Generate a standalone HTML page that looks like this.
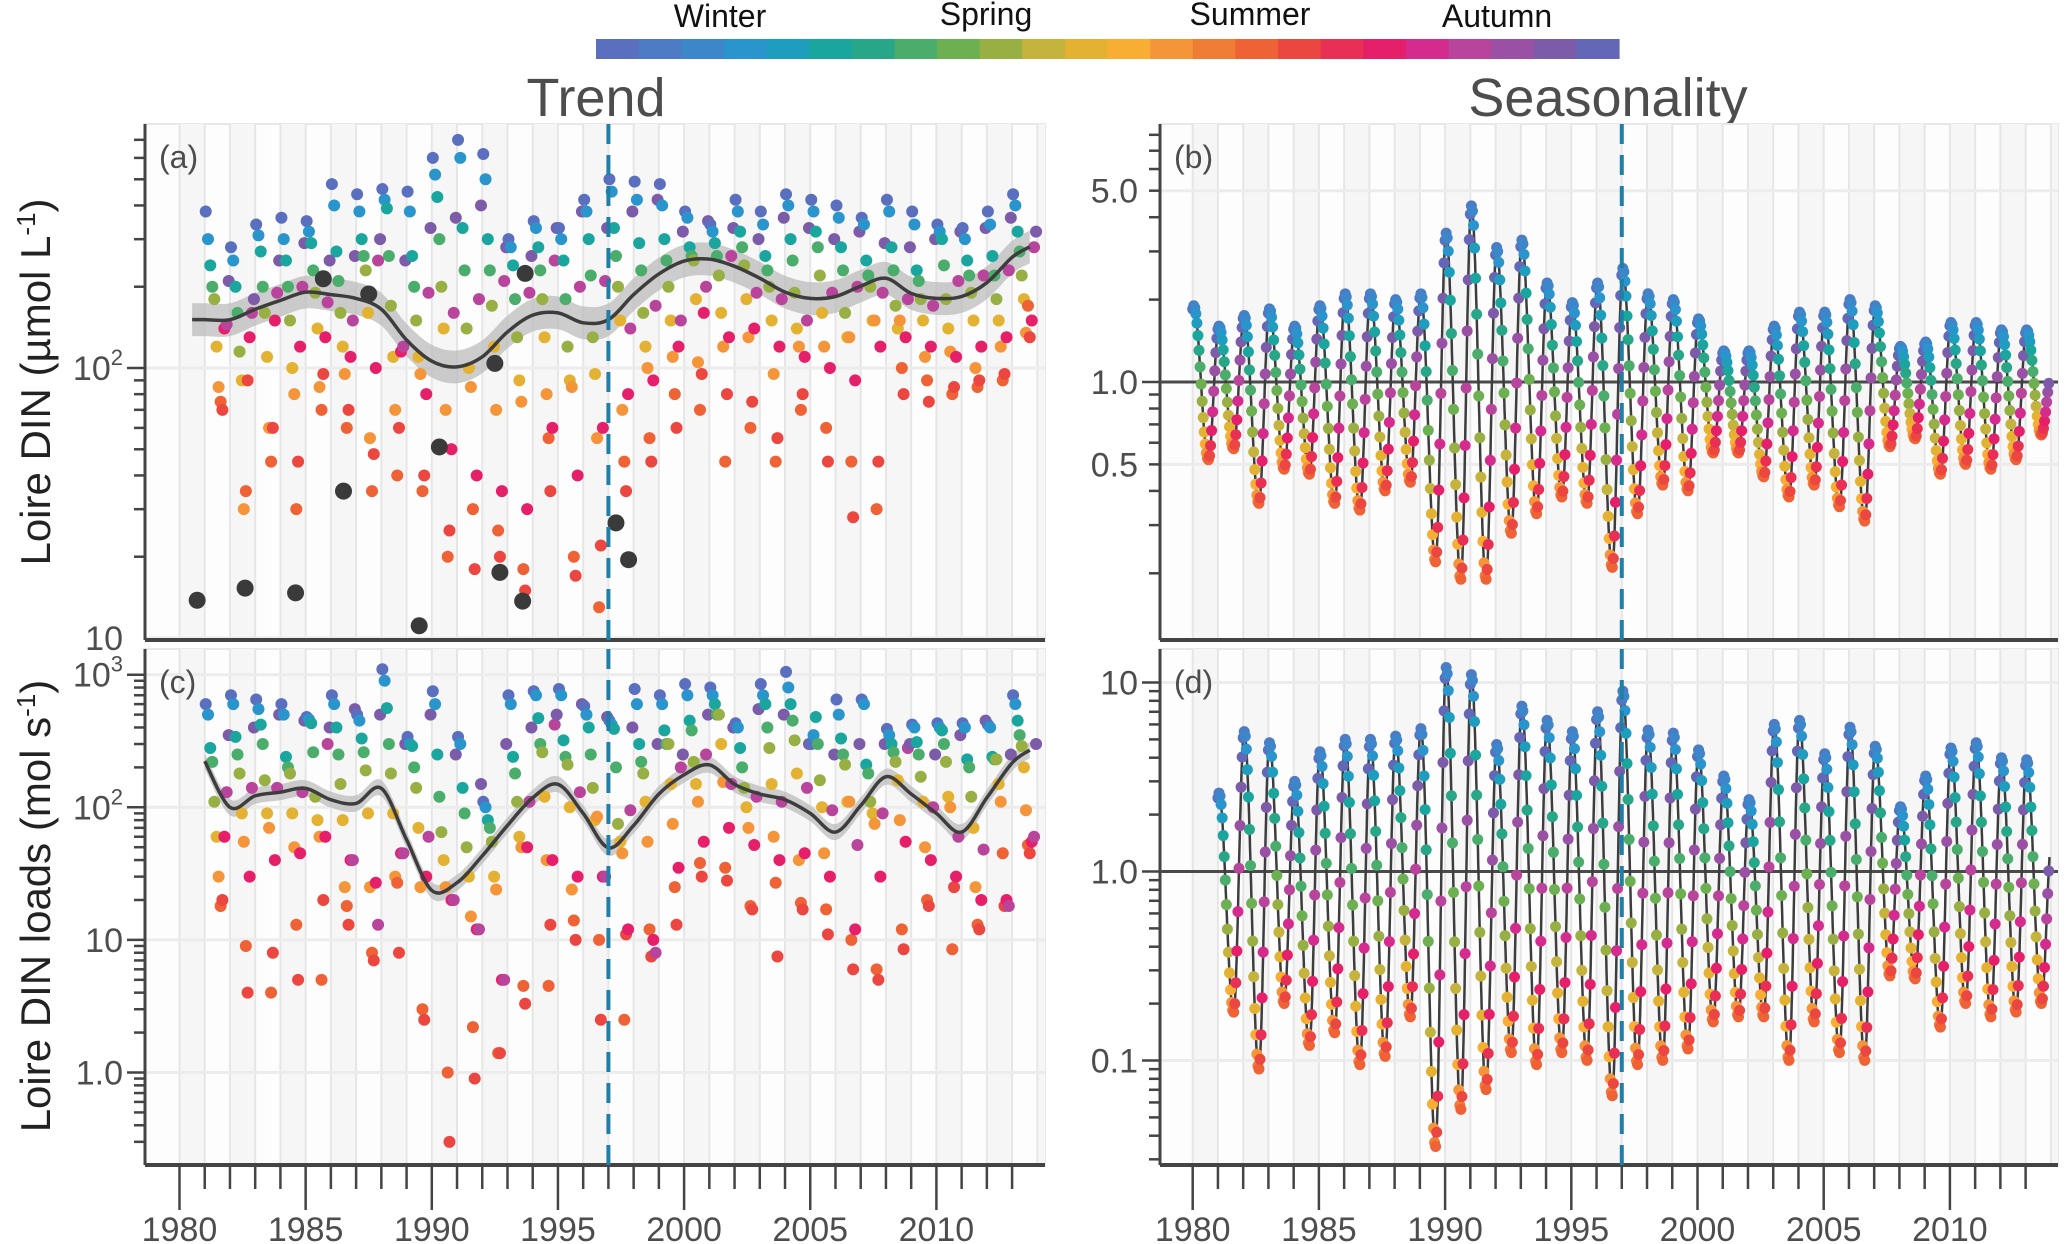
<!DOCTYPE html>
<html><head><meta charset="utf-8">
<style>
html,body{margin:0;padding:0;background:#fff;}
svg{display:block;font-family:"Liberation Sans",sans-serif;}
</style></head>
<body>
<svg id="fig" width="2067" height="1244" viewBox="0 0 2067 1244" xmlns="http://www.w3.org/2000/svg">
<g id="colorbar"></g>
<text x="720" y="27" font-size="32" text-anchor="middle" fill="#111">Winter</text>
<text x="986" y="25" font-size="32" text-anchor="middle" fill="#111">Spring</text>
<text x="1250" y="25" font-size="32" text-anchor="middle" fill="#111">Summer</text>
<text x="1497" y="27" font-size="32" text-anchor="middle" fill="#111">Autumn</text>
<text x="596" y="116" font-size="54" text-anchor="middle" fill="#4d4d4d">Trend</text>
<text x="1608" y="116" font-size="54" text-anchor="middle" fill="#4d4d4d">Seasonality</text>
<text transform="translate(50,382) rotate(-90)" font-size="42" text-anchor="middle" fill="#222">Loire DIN (µmol L<tspan dy="-15" font-size="26">-1</tspan><tspan dy="15">)</tspan></text>
<text transform="translate(50,906) rotate(-90)" font-size="42" text-anchor="middle" fill="#222">Loire DIN loads (mol s<tspan dy="-15" font-size="26">-1</tspan><tspan dy="15">)</tspan></text>
<g id="plots"></g>
</svg>
<script>
// ---------- DATA ----------
const paletteColors = ["#5b6fbf","#4d7cc4","#3c86c9","#2a94cc","#1e9dbf","#1aa59f","#27a787","#4aad6b","#6cb052","#98af44","#c4b33c","#e3b232","#f8ad33","#f5953a","#f07d35","#ee6235","#ec4641","#e93054","#e61f6a","#d52a8e","#b8449c","#9a50a4","#7c5ba9","#6467b5"];
const scatterYears = [1981,1982,1983,1984,1985,1986,1987,1988,1989,1990,1991,1992,1993,1994,1995,1996,1997,1998,1999,2000,2001,2002,2003,2004,2005,2006,2007,2008,2009,2010,2011,2012,2013];
const scatterMonths = [0.04,0.13,0.22,0.3,0.38,0.47,0.55,0.63,0.7,0.78,0.87,0.95];
const dinValues = [
[380,300,240,200,180,120,85,75,70,140,145,210],[280,250,200,160,115,90,30,35,90,130,160,180],[340,310,270,200,160,110,60,45,60,150,190,250],[360,300,250,200,150,100,80,30,45,120,200,290],
[350,320,290,230,190,140,85,70,95,130,175,250],[480,400,270,210,160,120,95,60,70,110,150,260],[440,380,300,260,230,160,55,35,48,100,250,300],[460,420,390,260,170,110,70,40,60,115,120,250],
[450,380,260,200,150,110,95,35,40,80,190,330],[600,520,430,300,200,140,70,20,25,50,160,360],[700,600,330,230,140,100,85,30,18,40,180,400],[620,500,300,230,170,120,70,25,20,35,210,280],
[300,280,240,180,130,90,75,18,15,30,190,260],[350,330,280,230,180,130,80,55,35,60,250,330],[330,300,250,180,120,90,85,20,17,40,200,380],[420,380,300,220,130,95,55,13,22,60,210,330],
[500,450,330,260,200,150,70,45,35,80,140,380],[490,420,290,230,160,120,100,55,45,90,170,420],[480,400,300,250,200,150,110,80,60,120,150,320],[380,360,280,260,250,180,105,70,95,160,200,350],
[340,320,290,260,220,160,120,45,80,130,260,330],[420,380,320,280,240,180,130,60,75,140,190,300],[380,340,260,230,200,150,95,45,55,120,180,360],[440,400,300,250,190,140,120,70,80,110,150,330],
[420,380,320,280,220,160,120,60,45,100,190,300],[400,360,280,230,160,130,130,45,28,90,200,320],[360,340,250,220,200,150,150,30,45,120,190,290],[420,380,280,230,170,140,150,100,80,130,180,280],
[380,340,230,210,180,150,110,90,75,120,170,300],[340,320,300,240,180,140,115,80,85,110,210,320],[330,300,250,220,190,150,100,85,90,120,220,330],[380,340,260,220,180,150,120,90,95,130,230,360],
[440,400,320,270,220,180,135,170,130,150,280,320]];
const loadValues = [
[600,500,280,220,110,60,30,18,20,60,130,350],[700,600,340,250,180,90,55,9,4,30,140,400],[650,550,420,300,160,90,70,4,8,40,140,500],[600,500,240,200,180,90,50,13,5,45,130,450],
[480,460,430,260,120,80,60,5,20,60,300,400],[700,600,400,250,150,80,25,18,13,40,40,550],[500,450,330,260,190,90,25,8,7,27,13,500],[1100,900,560,300,180,90,30,27,8,45,45,300],
[340,300,290,200,140,70,25,3,2.5,30,60,500],[750,600,250,120,65,40,25,1.0,0.3,20,20,250],[340,300,140,90,50,30,15,2.2,0.9,12,12,150],[110,100,80,70,55,30,24,1.4,1.4,5,5,300],
[700,600,240,180,110,60,50,4.5,3.3,50,110,400],[750,700,470,300,260,120,40,4.5,13,40,420,500],[780,700,320,240,210,100,24,14,10,30,130,600],[580,500,400,250,140,80,85,10,2.5,30,30,480],
[450,420,390,200,75,55,45,2.5,11,12,95,400],[780,600,300,220,180,110,55,12,7.5,10,8,300],[700,600,380,300,300,150,75,25,13,35,200,250],[850,700,450,380,220,150,110,38,30,55,250,500],
[800,700,600,500,500,300,155,35,28,70,150,400],[430,400,280,200,140,100,70,18,17,52,120,550],[850,700,600,400,280,150,60,27,7.5,40,110,500],[1050,800,600,450,320,180,40,19,17,45,140,300],
[300,350,480,300,160,100,45,17,11,30,95,250],[650,500,330,250,210,110,110,10,6,12,52,300],[650,600,210,180,110,90,75,6,5,30,90,300],[390,350,300,260,220,160,80,12,8.5,55,280,300],
[420,400,310,250,170,110,50,20,18,40,100,250],[430,400,380,300,220,120,100,8.5,25,30,60,350],[430,400,230,200,120,70,25,13,12,20,48,450],[420,400,240,230,230,150,110,45,18,20,18,250],
[700,600,450,350,290,200,95,52,45,55,60,300]];
const outlierYears = [1980.7,1982.6,1984.6,1985.7,1986.5,1987.5,1989.5,1990.3,1992.5,1992.7,1993.6,1993.7,1997.3,1997.8];
const outlierValues = [13.8,15.3,14.7,214,35,188,11.1,51,104,17.5,13.7,224,26.7,19.5];
const trendAYears = [1980.5,1981,1982,1983,1984,1985,1986,1987,1988,1989,1990,1991,1992,1993,1994,1995,1996,1997,1998,1999,2000,2001,2002,2003,2004,2005,2006,2007,2008,2009,2010,2011,2012,2013,2013.7];
const trendAValues = [151,151,151,165,178,191,187,181,165,127,106,101,110,136,157,160,147,151,187,223,249,253,238,215,191,181,184,201,215,189,181,184,207,257,281];
const trendCYears = [1981,1982,1983,1984,1985,1986,1987,1988,1989,1990,1991,1992,1993,1994,1995,1996,1997,1998,1999,2000,2001,2002,2003,2004,2005,2006,2007,2008,2009,2010,2011,2012,2013,2013.7];
const trendCValues = [223,100,122,130,139,114,107,139,57,23.6,27,43,73,118,149,90,49.5,73,126,176,209,149,126,114,90,65,103,170,126,90,65,118,216,270];
const seasonBYears = [1980,1981,1982,1983,1984,1985,1986,1987,1988,1989,1990,1991,1992,1993,1994,1995,1996,1997,1998,1999,2000,2001,2002,2003,2004,2005,2006,2007,2008,2009,2010,2011,2012,2013,2014];
const seasonBPeaks = [1.9,1.6,1.75,1.85,1.6,1.9,2.1,2.1,2.0,2.1,3.5,4.4,3.1,3.3,2.3,1.95,2.3,2.6,2.1,2.0,1.7,1.3,1.3,1.6,1.8,1.8,2.0,1.9,1.35,1.4,1.65,1.65,1.55,1.55,1.1];
const seasonBTroughs = [0.52,0.57,0.36,0.48,0.46,0.36,0.34,0.40,0.43,0.22,0.19,0.19,0.28,0.33,0.38,0.36,0.21,0.33,0.42,0.40,0.55,0.55,0.45,0.38,0.42,0.35,0.31,0.58,0.62,0.46,0.50,0.48,0.52,0.64,0.64];
const seasonDYears = [1981,1982,1983,1984,1985,1986,1987,1988,1989,1990,1991,1992,1993,1994,1995,1996,1997,1998,1999,2000,2001,2002,2003,2004,2005,2006,2007,2008,2009,2010,2011,2012,2013,2014];
const seasonDPeaks = [2.6,5.5,4.8,3.0,4.3,5.0,5.0,5.2,5.7,12,11,4.7,7.5,6.3,5.5,7,9,5.6,5.4,4.4,3.2,2.4,6,6.3,4.2,5.8,4.6,2.2,3.2,4.5,4.8,4.0,3.9,1.5];
const seasonDTroughs = [0.18,0.09,0.2,0.12,0.14,0.095,0.105,0.17,0.035,0.055,0.07,0.11,0.095,0.11,0.1,0.065,0.095,0.1,0.115,0.16,0.17,0.17,0.1,0.16,0.11,0.1,0.28,0.27,0.15,0.2,0.17,0.18,0.2,0.2];

// ---------- HELPERS ----------
const NS = "http://www.w3.org/2000/svg";
const root = document.getElementById("plots");
function mk(tag, attrs, parent){ const e=document.createElementNS(NS,tag); for(const k in attrs) e.setAttribute(k,attrs[k]); (parent||root).appendChild(e); return e; }
function colorAt(f){ f=f-Math.floor(f); return paletteColors[Math.min(23,Math.floor(f*24))]; }

const cb = document.getElementById("colorbar");
for(let i=0;i<24;i++){
  const r = mk("rect",{x:596+i*1023/24,y:39,width:1023/24+0.6,height:20,fill:paletteColors[i]},cb);
  
  
}

function makePanel(o){
  const g = mk("g",{});
  
  
  const xs = yr => o.x0 + (yr-1980)*o.k;
  const ys = v => o.yRef - (Math.log10(v)-Math.log10(o.ref))*o.dec;
  mk("rect",{x:o.L,y:o.T,width:o.R-o.L,height:o.B-o.T,fill:"#fdfdfd",stroke:"#e8e8e8","stroke-width":2},g);
  for(let yr=1980; yr<=2014; yr++){
    const x = xs(yr);
    if(yr%2===0 && x+o.k>o.L){ mk("rect",{x:Math.max(o.L,x),y:o.T,width:Math.min(o.k,o.R-Math.max(o.L,x)),height:o.B-o.T,fill:"#f6f6f6"},g); }
  }
  for(let yr=1980; yr<=2014; yr++){ const x=xs(yr); if(x>o.L&&x<o.R) mk("line",{x1:x,x2:x,y1:o.T,y2:o.B,stroke:"#e6e6e6","stroke-width":2},g); }
  o.majors.forEach(m=>{ mk("line",{x1:o.L,x2:o.R,y1:ys(m.v),y2:ys(m.v),stroke:"#ececec","stroke-width":3},g); });
  const lo=Math.floor(Math.log10(o.vmin)), hi=Math.ceil(Math.log10(o.vmax));
  for(let e=lo;e<=hi;e++){ for(let m=1;m<10;m++){ const v=m*Math.pow(10,e); const y=ys(v); if(y>o.T+2&&y<o.B-2){ mk("line",{x1:o.L-(m===1?18:11),x2:o.L,y1:y,y2:y,stroke:"#444","stroke-width":2.5},g);} } }
  o.majors.forEach(m=>{
    const t = mk("text",{x:o.L-22,y:ys(m.v)+12,"font-size":34,"text-anchor":"end",fill:"#4d4d4d"},g);
    
    
    t.textContent = m.t;
    if(m.sup){ const s=mk("tspan",{dy:-15,"font-size":22},t); s.textContent=m.sup; }
  });
  mk("line",{x1:o.L,x2:o.L,y1:o.T,y2:o.B,stroke:"#444","stroke-width":3},g);
  mk("line",{x1:o.L,x2:o.R,y1:o.B,y2:o.B,stroke:"#444","stroke-width":4},g);
  const lab = mk("text",{x:o.L+14,y:o.T+44,"font-size":32,fill:"#4d4d4d"},g);
  
  
  lab.textContent = o.label;
  if(o.xlabels){
    for(let yr=1980; yr<=2013; yr++){
      const x=xs(yr);
      mk("line",{x1:x,x2:x,y1:o.B,y2:o.B+(yr%5===0?45:24),stroke:"#444","stroke-width":2.5},g);
      if(yr%5===0){
        const t=mk("text",{x:x,y:1241,"font-size":34,"text-anchor":"middle",fill:"#4d4d4d"},g);
        
        
        t.textContent=yr;
      }
    }
  }
  return {g,xs,ys,o};
}
function smoothPath(pts){
  let d="M"+pts[0][0]+","+pts[0][1];
  for(let i=0;i<pts.length-1;i++){
    const p0=pts[Math.max(0,i-1)],p1=pts[i],p2=pts[i+1],p3=pts[Math.min(pts.length-1,i+2)];
    const c1=[p1[0]+(p2[0]-p0[0])/6,p1[1]+(p2[1]-p0[1])/6], c2=[p2[0]-(p3[0]-p1[0])/6,p2[1]-(p3[1]-p1[1])/6];
    d+=" C"+c1.join(",")+" "+c2.join(",")+" "+p2.join(",");
  }
  return d;
}
function dashed(P){
  const x=P.xs(1997);
  const l=mk("line",{x1:x,x2:x,y1:P.o.T,y2:P.o.B,stroke:"#1f7fa6","stroke-width":4,"stroke-dasharray":"20,11"},P.g);
  
  
}
function trendPanel(P, vals, years, tY, tV, outX, outY){
  const pts=tY.map((y,i)=>[P.xs(y),P.ys(tV[i])]);
  const up=tY.map((y,i)=>[P.xs(y),P.ys(tV[i]*1.15)]);
  const dn=tY.map((y,i)=>[P.xs(y),P.ys(tV[i]/1.15)]).reverse();
  const band=mk("path",{d:smoothPath(up)+" L"+smoothPath(dn).slice(1)+" Z",fill:"#b8b8b8","fill-opacity":0.7},P.g);
  
  
  years.forEach((yr,i)=>{
    vals[i].forEach((v,j)=>{
      const c=mk("circle",{cx:P.xs(yr+scatterMonths[j]),cy:P.ys(v),r:6,fill:colorAt(scatterMonths[j])},P.g);
      
      
    });
  });
  if(outX){ outX.forEach((x,i)=>{
    const c=mk("circle",{cx:P.xs(x),cy:P.ys(outY[i]),r:8.5,fill:"#3a3a3a"},P.g);
    
    
  }); }
  const line=mk("path",{d:smoothPath(pts),fill:"none",stroke:"#3d3d3d","stroke-width":3.5},P.g);
  
  
  dashed(P);
}
function seasonValue(years,peaks,troughs,t){
  const i=Math.floor(t)-years[0]; const p=t-Math.floor(t);
  const tp=0.04, tt=0.62;
  const L=Math.log;
  let a,b,f;
  if(p<tp){ a=troughs[Math.max(0,i-1)]; b=peaks[i]; f=(p+1-tt)/(1+tp-tt); }
  else if(p<tt){ a=peaks[i]; b=troughs[i]; f=(p-tp)/(tt-tp); }
  else { a=troughs[i]; b=peaks[Math.min(peaks.length-1,i+1)]; f=(p-tt)/(1+tp-tt); }
  const w=(1-Math.cos(Math.PI*f))/2;
  return Math.exp(L(a)+(L(b)-L(a))*w);
}
function seasonPanel(P, years, peaks, troughs, start, end){
  let d="";
  for(let t=start;t<=end;t+=1/96){ d+=(d?" L":"M")+P.xs(t).toFixed(1)+","+P.ys(seasonValue(years,peaks,troughs,t)).toFixed(1); }
  const ref=mk("line",{x1:P.o.L,x2:P.o.R,y1:P.ys(1),y2:P.ys(1),stroke:"#4a4a4a","stroke-width":3},P.g);
  
  
  const line=mk("path",{d:d,fill:"none",stroke:"#3d3d3d","stroke-width":2.5},P.g);
  
  
  for(let t=start;t<=end+1e-6;t+=1/24){
    const c=mk("circle",{cx:P.xs(t),cy:P.ys(seasonValue(years,peaks,troughs,t)),r:5.5,fill:colorAt(t)},P.g);
    
    
  }
  dashed(P);
}

const A=makePanel({name:"panel-a-din-trend",label:"(a)",L:145,R:1045,T:124,B:640,x0:179.5,k:25.23,ref:100,yRef:368,dec:270,vmin:9.8,vmax:804,
  majors:[{v:10,t:"10"},{v:100,t:"10",sup:"2"}]});
trendPanel(A,dinValues,scatterYears,trendAYears,trendAValues,outlierYears,outlierValues);
const C=makePanel({name:"panel-c-load-trend",label:"(c)",L:145,R:1045,T:649,B:1165,x0:179.5,k:25.23,ref:1000,yRef:674.7,dec:132.6,vmin:0.2,vmax:1580,
  majors:[{v:1,t:"1.0"},{v:10,t:"10"},{v:100,t:"10",sup:"2"},{v:1000,t:"10",sup:"3"}],xlabels:true});
trendPanel(C,loadValues,scatterYears,trendCYears,trendCValues,null,null);
const B=makePanel({name:"panel-b-din-seasonality",label:"(b)",L:1160,R:2058,T:124,B:640,x0:1192.7,k:25.24,ref:1,yRef:382,dec:273.7,vmin:0.114,vmax:8.8,
  majors:[{v:0.5,t:"0.5"},{v:1,t:"1.0"},{v:5,t:"5.0"}]});
seasonPanel(B,seasonBYears,seasonBPeaks,seasonBTroughs,1980.0,2013.95);
const D=makePanel({name:"panel-d-load-seasonality",label:"(d)",L:1160,R:2058,T:649,B:1165,x0:1192.7,k:25.24,ref:1,yRef:871.5,dec:189,vmin:0.028,vmax:15,
  majors:[{v:0.1,t:"0.1"},{v:1,t:"1.0"},{v:10,t:"10"}],xlabels:true});
seasonPanel(D,seasonDYears,seasonDPeaks,seasonDTroughs,1981.0,2013.95);
</script>
</body></html>
